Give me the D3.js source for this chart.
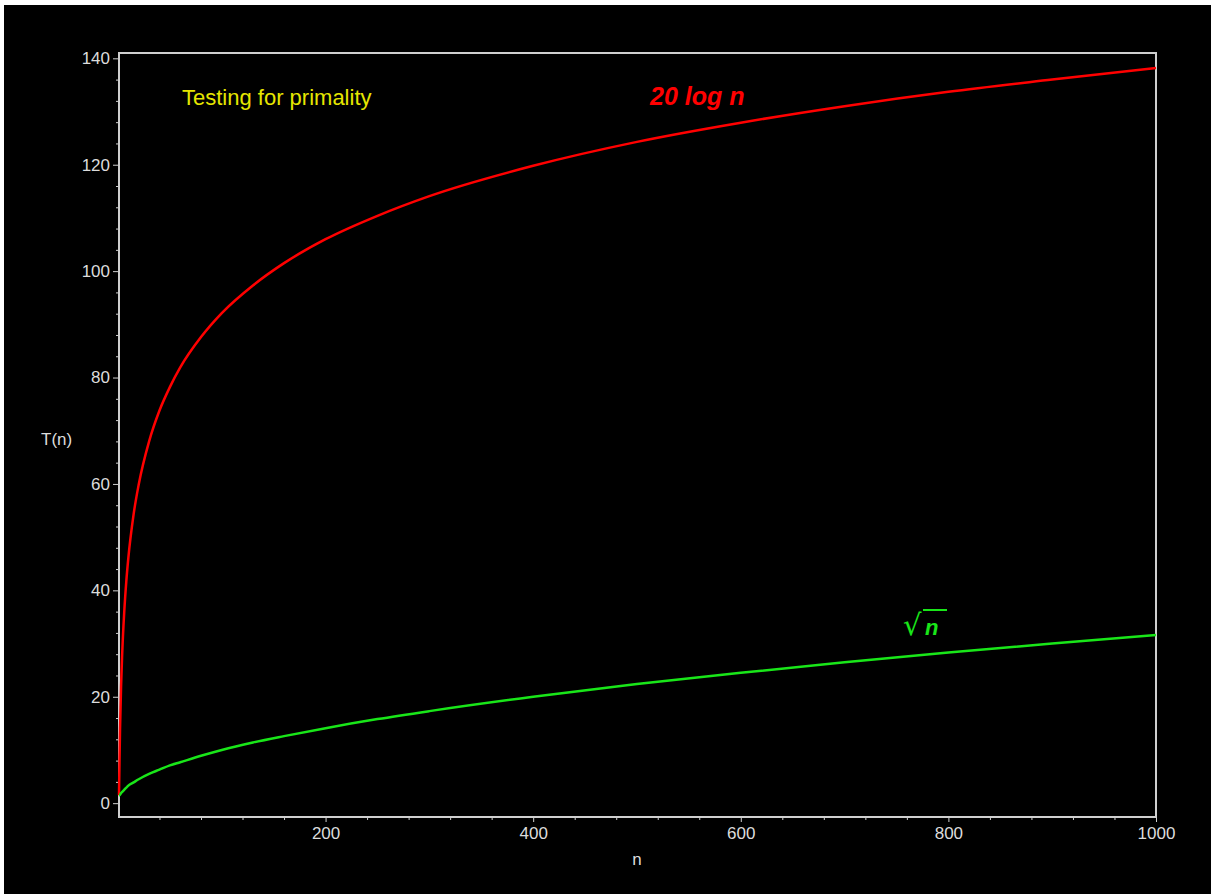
<!DOCTYPE html>
<html>
<head>
<meta charset="utf-8">
<script src="https://cdn.jsdelivr.net/npm/d3@7"></script>
<style>
  html, body { margin: 0; padding: 0; background: #fff; }
  svg { display: block; }
  text { font-family: "Liberation Sans", Arial, sans-serif; }
</style>
</head>
<body>
<svg></svg>
<script>
// Chart size
const width = 1211;
const height = 894;

// Data
const nValues    = [1, 1.5, 2, 3, 4, 6, 8, 10, 15, 20, 30, 40, 50, 60, 80, 100, 130, 160, 200, 250, 300, 400, 500, 600, 700, 800, 900, 1000];
const logValues  = [1.5, 8.1, 13.9, 22.0, 27.7, 35.8, 41.6, 46.1, 54.2, 59.9, 68.0, 73.8, 78.2, 81.9, 87.6, 92.1, 97.3, 101.5, 106.0, 110.4, 114.1, 119.8, 124.3, 127.9, 131.0, 133.7, 136.0, 138.2];
const sqrtValues = [1.5, 1.5, 1.6, 1.9, 2.1, 2.5, 2.9, 3.3, 3.9, 4.5, 5.5, 6.3, 7.1, 7.7, 8.9, 10.0, 11.4, 12.6, 14.1, 15.8, 17.3, 20.0, 22.4, 24.5, 26.5, 28.3, 30.0, 31.6];
const xTickLabels = [200, 400, 600, 800, 1000];
const yTickLabels = [0, 20, 40, 60, 80, 100, 120, 140];

const svg = d3.select("svg")
    .attr("width", width)
    .attr("height", height);

// Black panel (the picture has a thin white strip on top and left)
svg.append("rect")
    .attr("x", 4)
    .attr("y", 5)
    .attr("width", width - 4)
    .attr("height", height - 5)
    .attr("fill", "#000");

// Scales
const xScale = d3.scaleLinear()
    .domain([1, 1000])
    .range([119, 1156]);

const yScale = d3.scaleLinear()
    .domain([-2.6, 141])
    .range([817, 53]);

const axisColor = "#cfcfcf";
const labelColor = "#dcdcdc";
const green = "#19e619";

// Minor ticks
const xMinor = d3.range(40, 1000, 40).filter(d => d % 200 !== 0);
const yMinor = d3.range(0, 141, 4).filter(d => d % 20 !== 0);

svg.append("g")
    .attr("transform", `translate(0,${yScale.range()[0]})`)
    .call(d3.axisBottom(xScale).tickValues(xMinor).tickSize(3).tickFormat(""));

svg.append("g")
    .attr("transform", `translate(${xScale.range()[0]},0)`)
    .call(d3.axisLeft(yScale).tickValues(yMinor).tickSize(3).tickFormat(""));

// Major ticks
svg.append("g")
    .attr("transform", `translate(0,${yScale.range()[0]})`)
    .call(d3.axisBottom(xScale).tickValues(xTickLabels).tickSize(5).tickPadding(5).tickFormat(d3.format("d")));

svg.append("g")
    .attr("transform", `translate(${xScale.range()[0]},0)`)
    .call(d3.axisLeft(yScale).tickValues(yTickLabels).tickSize(6).tickPadding(3).tickFormat(d3.format("d")));

svg.selectAll(".domain").remove();
svg.selectAll(".tick line").attr("stroke", axisColor);
svg.selectAll(".tick text")
    .attr("fill", labelColor)
    .style("font-size", "17px")
    .style("font-family", "'Liberation Sans', Arial, sans-serif");

// Frame box
svg.append("rect")
    .attr("x", xScale.range()[0])
    .attr("y", yScale.range()[1])
    .attr("width", xScale.range()[1] - xScale.range()[0])
    .attr("height", yScale.range()[0] - yScale.range()[1])
    .attr("fill", "none")
    .attr("stroke", axisColor)
    .attr("stroke-width", 2);

// Curves
const curve = d3.line()
    .x((d, i) => xScale(nValues[i]))
    .y(d => yScale(d))
    .curve(d3.curveMonotoneX);

svg.append("path")
    .datum(logValues)
    .attr("d", curve)
    .attr("fill", "none")
    .attr("stroke", "#ff0000")
    .attr("stroke-width", 2.5);

svg.append("path")
    .datum(sqrtValues)
    .attr("d", curve)
    .attr("fill", "none")
    .attr("stroke", green)
    .attr("stroke-width", 2.5);

// Title
svg.append("text")
    .text("Testing for primality")
    .attr("x", 182)
    .attr("y", 105)
    .attr("fill", "#e6e600")
    .style("font-size", "22px");

// Curve labels
svg.append("text")
    .text("20 log n")
    .attr("x", 650)
    .attr("y", 105)
    .attr("fill", "#ff0000")
    .style("font-size", "25px")
    .style("font-weight", "bold")
    .style("font-style", "italic");

const sqrtLabel = svg.append("text")
    .attr("y", 635)
    .attr("fill", green)
    .style("font-weight", "bold");
sqrtLabel.append("tspan")
    .attr("x", 903)
    .style("font-family", "'DejaVu Sans', sans-serif")
    .style("font-size", "29px")
    .style("font-weight", "normal")
    .text("√");
sqrtLabel.append("tspan")
    .attr("x", 925)
    .style("font-size", "22px")
    .style("font-style", "italic")
    .text("n");

svg.append("line")
    .attr("x1", 923)
    .attr("x2", 947)
    .attr("y1", 610)
    .attr("y2", 610)
    .attr("stroke", green)
    .attr("stroke-width", 2);

// Axis labels
svg.append("text")
    .text("T(n)")
    .attr("x", 41)
    .attr("y", 445)
    .attr("fill", labelColor)
    .style("font-size", "17px");

svg.append("text")
    .text("n")
    .attr("x", 637)
    .attr("y", 865)
    .attr("fill", labelColor)
    .style("text-anchor", "middle")
    .style("font-size", "17px");
</script>
</body>
</html>
